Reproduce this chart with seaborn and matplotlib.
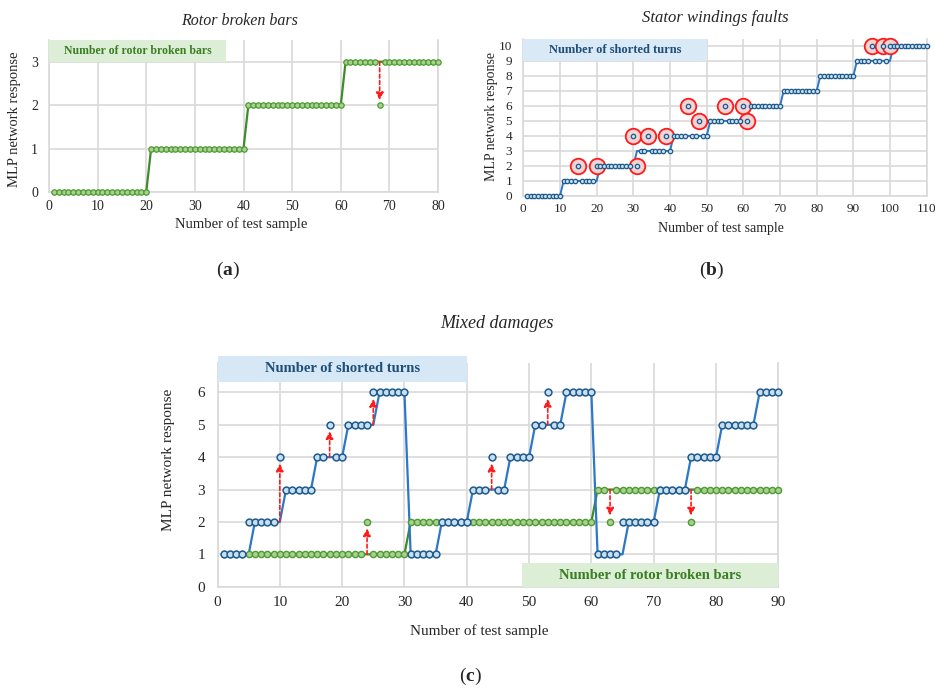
import numpy as np
import pandas as pd
import matplotlib
matplotlib.use("Agg")
import matplotlib.pyplot as plt
from matplotlib.patches import Rectangle
import seaborn as sns

# ---------------- data ----------------
# (a) rotor broken bars: level drawn by the line and network response (markers)
rotor_level = [0] * 20 + [1] * 20 + [2] * 20 + [3] * 20
rotor_response = [0] * 20 + [1] * 20 + [2] * 20 + [3] * 7 + [2] + [3] * 12
rotor_arrows = [68]

# (b) stator windings faults: number of shorted turns
stator_level = ([0] * 10 + [1] * 10 + [2] * 10 + [3] * 10 + [4] * 10 + [5] * 10
                + [6] * 10 + [7] * 10 + [8] * 10 + [9] * 10 + [10] * 10)
stator_response = ([0] * 10
                   + [1, 1, 1, 1, 2, 1, 1, 1, 1, 2]
                   + [2] * 9 + [4]
                   + [2, 3, 3, 4, 3, 3, 3, 3, 4, 3]
                   + [4, 4, 4, 4, 6, 4, 4, 5, 4, 4]
                   + [5, 5, 5, 5, 6, 5, 5, 5, 5, 6]
                   + [5] + [6] * 9
                   + [7] * 10
                   + [8] * 10
                   + [9, 9, 9, 9, 10, 9, 9, 10, 9, 10]
                   + [10] * 10)

# (c) mixed damages: shorted turns and rotor broken bars
turns_level = ([1] * 5 + [2] * 5 + [3] * 5 + [4] * 5 + [5] * 5 + [6] * 5
               + [1] * 5 + [2] * 5 + [3] * 6 + [4] * 4 + [5] * 5 + [6] * 5
               + [1] * 5 + [2] * 5 + [3] * 5 + [4] * 5 + [5] * 6 + [6] * 4)
turns_response = ([1, 1, 1, 1, 2, 2, 2, 2, 2, 4, 3, 3, 3, 3, 3,
                   4, 4, 5, 4, 4, 5, 5, 5, 5, 6, 6, 6, 6, 6, 6]
                  + [1] * 5 + [2] * 5 + [3, 3, 3, 4, 3, 3] + [4] * 4
                  + [5, 5, 6, 5, 5] + [6] * 5
                  + [1, 1, 1, 1, 2] + [2] * 5 + [3] * 5 + [4] * 5 + [5] * 6 + [6] * 4)
turns_arrows = [10, 18, 25, 44, 53]

bars_level = [1] * 30 + [2] * 30 + [3] * 30
bars_response = ([1] * 23 + [2] + [1] * 6
                 + [2] * 30
                 + [3, 3, 2] + [3] * 12 + [2] + [3] * 14)
bars_arrows = [24, 63, 76]

# ---------------- style ----------------
sns.set_style("whitegrid")
SERIF = ["Liberation Serif", "DejaVu Serif"]
plt.rcParams["font.family"] = SERIF
plt.rcParams["mathtext.fontset"] = "custom"
plt.rcParams["mathtext.rm"] = "Liberation Serif"
plt.rcParams["mathtext.bf"] = "Liberation Serif:bold"

GRID = "#d9d9d9"
TXT = "#262626"
BLUE_LINE = "#2b78c8"
BLUE_EDGE = "#1f5a8c"
BLUE_FILL = "#c8dff0"
GREEN_LINE = "#3f8a2a"
GREEN_EDGE = "#4e9a34"
GREEN_FILL = "#a9d18e"
RED = "#ff1a1a"

W, H = 935, 689
fig = plt.figure(figsize=(W / 100, H / 100), dpi=100)


def axes_px(left, right, bottom, top):
    return fig.add_axes([left / W, 1 - bottom / H, (right - left) / W, (bottom - top) / H])


def style_axes(ax, xmax, ymax, xstep, ystep, tick_size, pad_x, pad_y):
    ax.set_xlim(0, xmax)
    ax.set_ylim(0, ymax)
    ax.set_xticks(np.arange(0, xmax + 1, xstep))
    ax.set_yticks(np.arange(0, int(ymax) + 1, ystep))
    ax.grid(True, color=GRID, lw=1.2)
    for s in ("left", "bottom", "right"):
        ax.spines[s].set_visible(True)
        ax.spines[s].set_color(GRID)
        ax.spines[s].set_linewidth(1.2)
    ax.spines["top"].set_visible(False)
    ax.tick_params(axis="both", length=0, labelsize=tick_size, colors=TXT)
    ax.tick_params(axis="x", pad=pad_x)
    ax.tick_params(axis="y", pad=pad_y)
    ax.set_xlabel("")
    ax.set_ylabel("")


def axis_titles(ax, size, xpos, ypos):
    ax.set_xlabel("Number of test sample", fontsize=size, color=TXT, va="center")
    ax.xaxis.set_label_coords(*xpos)
    ax.set_ylabel("MLP network response", fontsize=size, color=TXT, va="center")
    ax.yaxis.set_label_coords(*ypos)


def draw_arrows(ax, samples, level, response, shrink):
    for s in samples:
        y0 = level[s - 1]
        y1 = response[s - 1]
        ax.annotate("", xy=(s, y1), xytext=(s, y0),
                    arrowprops=dict(arrowstyle="-|>,head_length=0.45,head_width=0.22",
                                    color=RED, lw=1.2, linestyle=(0, (2.2, 1.6)),
                                    shrinkA=0, shrinkB=shrink),
                    zorder=6)


def header_box(ax, x0, x1, y0, y1, text, face, color, size):
    ax.add_patch(Rectangle((x0, y0), x1 - x0, y1 - y0, facecolor=face,
                           edgecolor="none", zorder=3, clip_on=False))
    ax.text((x0 + x1) / 2, (y0 + y1) / 2, text, ha="center", va="center",
            fontsize=size, fontweight="bold", color=color, zorder=4, clip_on=False)


# ---------------- (a) rotor broken bars ----------------
ax_a = axes_px(49, 438, 192, 40)
xa = np.arange(1, len(rotor_level) + 1)
sns.lineplot(x=xa, y=rotor_level, ax=ax_a, color=GREEN_LINE, lw=1.6,
             estimator=None, sort=False, zorder=4)
sns.scatterplot(x=xa, y=rotor_response, ax=ax_a, s=15, color=GREEN_FILL,
                edgecolor=GREEN_EDGE, linewidth=0.9, zorder=5, clip_on=False)
draw_arrows(ax_a, rotor_arrows, rotor_level, rotor_response, 3.5)
style_axes(ax_a, 80, 3.5, 10, 1, 10, 6, 8)
header_box(ax_a, 0, 36.5, 3.0, 3.5, "Number of rotor broken bars", "#dcefd6", "#3a7d22", 8.5)
axis_titles(ax_a, 10.5, (0.495, -0.21), (-0.088, 0.48))
fig.text(240 / W, 1 - 21 / H, "Rotor broken bars", ha="center", va="center",
         fontsize=11.5, style="italic", color=TXT)
fig.text(228 / W, 1 - 270 / H, r"($\mathbf{a}$)", ha="center", va="center",
         fontsize=14, color=TXT)

# ---------------- (b) stator windings faults ----------------
ax_b = axes_px(523.3, 926.7, 196, 39)
xb = np.arange(1, len(stator_level) + 1)
wrong_b = [i for i in range(len(xb)) if stator_response[i] != stator_level[i]]
sns.lineplot(x=xb, y=stator_level, ax=ax_b, color=BLUE_LINE, lw=1.4,
             estimator=None, sort=False, zorder=4)
sns.scatterplot(x=xb[wrong_b], y=[stator_response[i] for i in wrong_b], ax=ax_b,
                s=125, color="#f7d3d3", edgecolor=RED, linewidth=1.3, zorder=5,
                clip_on=False)
sns.scatterplot(x=xb, y=stator_response, ax=ax_b, s=10, color=BLUE_FILL,
                edgecolor=BLUE_EDGE, linewidth=0.9, zorder=6, clip_on=False)
style_axes(ax_b, 110, 10.45, 10, 1, 9.5, 5, 8)
header_box(ax_b, 0, 50, 9.0, 10.45, "Number of shorted turns", "#d9e9f6", "#1f4e79", 9)
axis_titles(ax_b, 10, (0.49, -0.206), (-0.078, 0.505))
fig.text(715 / W, 1 - 18 / H, "Stator windings faults", ha="center", va="center",
         fontsize=12, style="italic", color=TXT)
fig.text(712 / W, 1 - 270 / H, r"($\mathbf{b}$)", ha="center", va="center",
         fontsize=14, color=TXT)

# ---------------- (c) mixed damages ----------------
ax_c = axes_px(217.5, 778.3, 586.7, 363.3)
xc = np.arange(1, len(turns_level) + 1)
sns.lineplot(x=xc, y=bars_level, ax=ax_c, color=GREEN_LINE, lw=1.6,
             estimator=None, sort=False, zorder=4)
sns.lineplot(x=xc, y=turns_level, ax=ax_c, color=BLUE_LINE, lw=1.6,
             estimator=None, sort=False, zorder=4.2)
sns.scatterplot(x=xc, y=bars_response, ax=ax_c, s=20, color=GREEN_FILL,
                edgecolor=GREEN_EDGE, linewidth=1.0, zorder=5, clip_on=False)
sns.scatterplot(x=xc, y=turns_response, ax=ax_c, s=24, color=BLUE_FILL,
                edgecolor=BLUE_EDGE, linewidth=1.1, zorder=5.5, clip_on=False)
draw_arrows(ax_c, turns_arrows, turns_level, turns_response, 4.5)
draw_arrows(ax_c, bars_arrows, bars_level, bars_response, 4.5)
style_axes(ax_c, 90, 6.9, 10, 1, 11, 7, 9)
header_box(ax_c, 0, 40, 6.33, 7.12, "Number of shorted turns", "#d6e8f5", "#1f4e79", 10.5)
header_box(ax_c, 48.8, 90, 0, 0.72, "Number of rotor broken bars", "#dcefd6", "#3a7d22", 10.5)
axis_titles(ax_c, 11, (0.466, -0.198), (-0.088, 0.567))
fig.text(497 / W, 1 - 324 / H, "Mixed damages", ha="center", va="center",
         fontsize=13, style="italic", color=TXT)
fig.text(470 / W, 1 - 676 / H, r"($\mathbf{c}$)", ha="center", va="center",
         fontsize=14, color=TXT)

fig.savefig("out.png", dpi=100)
